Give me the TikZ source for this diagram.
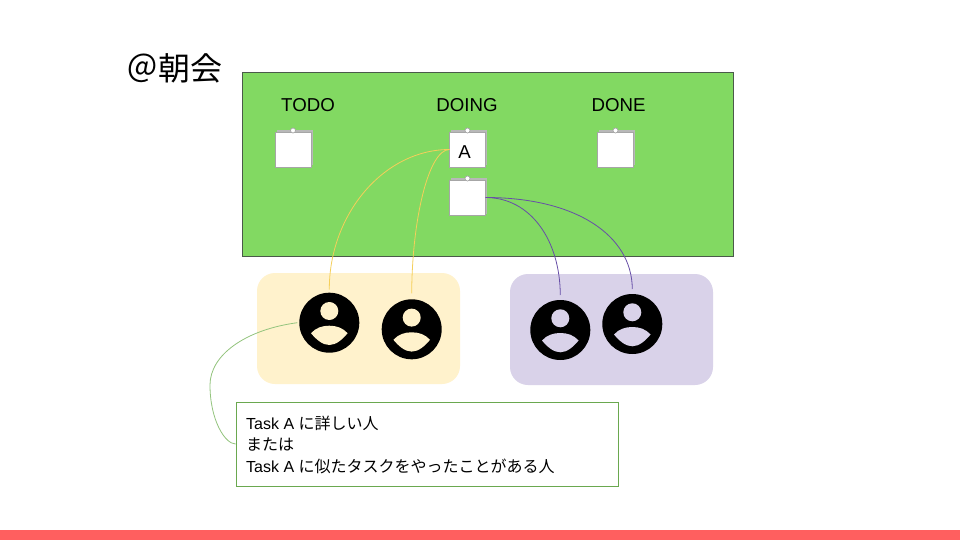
\documentclass[tikz,border=0pt]{standalone}
\usepackage{fontspec}
\setmainfont{Liberation Sans}
\newfontfamily\cjk{Noto Sans CJK JP}
\definecolor{boardgreen}{HTML}{82D962}
\definecolor{boardedge}{HTML}{4A5A4A}
\definecolor{panelyellow}{HTML}{FFF2CC}
\definecolor{panelpurple}{HTML}{D9D2E9}
\definecolor{linkyellow}{HTML}{F5CF5A}
\definecolor{linkpurple}{HTML}{674EA7}
\definecolor{linkgreen}{HTML}{93C47D}
\definecolor{boxgreen}{HTML}{6AA84F}
\definecolor{barred}{HTML}{FF5F5F}
\tikzset{
  heading/.style={inner sep=0pt,font=\fontsize{18.67}{22}\selectfont,text=black},
  notecard/.style={draw=black!35,line width=0.8pt,fill=white,minimum width=36pt,minimum height=35pt,inner sep=0pt,outer sep=0pt,
    preaction={draw=none,fill=black!28,transform canvas={shift={(1.5pt,1.5pt)}}}},
  pinhead/.style={circle,fill=white,draw=black!35,line width=0.7pt,minimum size=5pt,inner sep=0pt},
  panelbox/.style={rounded corners=18pt,minimum width=203pt,minimum height=111pt,inner sep=0pt},
  usericon/.style={circle,fill=black,minimum size=60pt,inner sep=0pt,outer sep=0pt},
  link/.style={line width=0.8pt},
}
% icon name, fill colour
\newcommand{\usercut}[2]{%
  \fill[#2] ([yshift=11.7pt]#1.center) circle[radius=9pt];
  \fill[#2] ([shift={(-18.3pt,-10.5pt)}]#1.center)
     .. controls +(5pt,5.5pt) and +(-7pt,0pt) .. ([shift={(0pt,-3pt)}]#1.center)
     .. controls +(7pt,0pt) and +(-5pt,5.5pt) .. ([shift={(18.3pt,-10.5pt)}]#1.center)
     .. controls +(-5pt,-6pt) and +(7pt,0pt) .. ([shift={(0pt,-22.3pt)}]#1.center)
     .. controls +(-7pt,0pt) and +(5pt,-6pt) .. cycle;
}
\begin{document}
\begin{tikzpicture}[x=1pt,y=-1pt]
\useasboundingbox (0,0) rectangle (960,540);
\fill[white] (0,0) rectangle (960,540);
\node[fill=barred,minimum width=960pt,minimum height=10pt,inner sep=0pt] (bar) at (480,535) {};
\node[inner sep=0pt,font=\fontsize{32}{36}\selectfont\cjk] (title) at (174,68) {＠朝会};
\node[draw=boardedge,line width=0.8pt,fill=boardgreen,minimum width=491pt,minimum height=184pt,inner sep=0pt] (board) at (488,164.5) {};
\node[heading] (todo) at (308,105.5) {TODO};
\node[heading] (doing) at (467,105.5) {DOING};
\node[heading] (done) at (618.5,105.5) {DONE};
\node[notecard] (n1) at (293,149.5) {};
\node[notecard] (n2) at (467.5,149.5) {};
\node[notecard] (n3) at (467.5,197.5) {};
\node[notecard] (n4) at (615.5,149.5) {};
\node[heading] (a) at (464.5,152.5) {A};
\node[pinhead] (p1) at ([yshift=1.5pt]n1.north) {};
\node[pinhead] (p2) at ([yshift=1.5pt]n2.north) {};
\node[pinhead] (p3) at ([yshift=1.5pt]n3.north) {};
\node[pinhead] (p4) at ([yshift=1.5pt]n4.north) {};
\node[panelbox,fill=panelyellow] (py) at (358.5,328.5) {};
\node[panelbox,fill=panelpurple,minimum height=111pt] (pp) at (611.5,329.5) {};
\node[usericon] (u1) at (329.3,322.7) {};
\node[usericon] (u2) at (411.7,329.3) {};
\node[usericon] (u3) at (560.3,330) {};
\node[usericon] (u4) at (632.3,324) {};
\usercut{u1}{panelyellow}
\usercut{u2}{panelyellow}
\usercut{u3}{panelpurple}
\usercut{u4}{panelpurple}
\node[draw=boxgreen,line width=0.8pt,fill=white,minimum width=382pt,minimum height=84pt,inner sep=0pt] (box) at (427,444) {};
\node[anchor=west,inner sep=0pt,align=left,font=\fontsize{16}{21.5}\selectfont] (txt) at (246,444.5)
  {Task A {\cjk に詳しい人}\\{\cjk または}\\Task A {\cjk に似たタスクをやったことがある人}};
\coordinate (y1) at ([yshift=3pt]u1.north);
\coordinate (y2) at ([yshift=6pt]u2.north);
\coordinate (v1) at ([yshift=5pt]u3.north);
\coordinate (v2) at ([yshift=5pt]u4.north);
\coordinate (g1) at ([xshift=-2pt]u1.west);
\draw[link,linkyellow] (n2.west) .. controls +(-66,0) and (329,215) .. (y1);
\draw[link,linkyellow] (n2.west) .. controls +(-21,0) and (412,220) .. (y2);
\draw[link,linkpurple] (n3.east) .. controls +(45,0) and (560,240) .. (v1);
\draw[link,linkpurple] (n3.east) .. controls +(90,0) and (632,235) .. (v2);
\draw[link,linkgreen] (g1) .. controls +(-52,7) and (210,355) .. (210,385) .. controls (210,420) and (225,444) .. (box.west);
\end{tikzpicture}
\end{document}
